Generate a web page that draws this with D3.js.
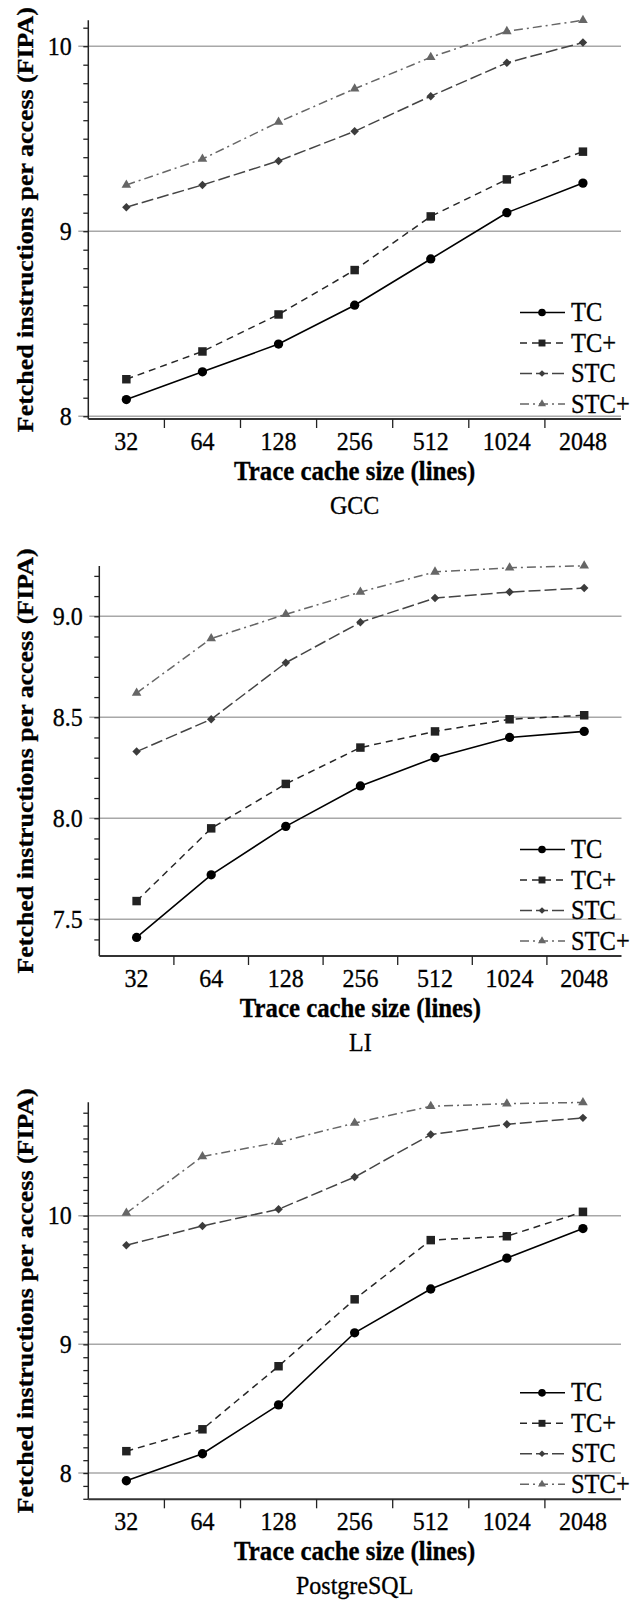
<!DOCTYPE html>
<html>
<head>
<meta charset="utf-8">
<script src="https://cdn.jsdelivr.net/npm/d3@7"></script>
<style>
body { margin: 0; background: #fff; }
text { font-family: "Liberation Serif", "Times New Roman", Times, serif; fill: #000; stroke: #000; stroke-width: 0.3; }
</style>
</head>
<body>
<div id="chart"></div>
<script>
// trace cache sizes (x categories) and series names
const sizes = ['32', '64', '128', '256', '512', '1024', '2048'];
const seriesNames = ['TC', 'TC+', 'STC', 'STC+'];

// GCC
const gccTC      = [8.09, 8.24, 8.39, 8.60, 8.85, 9.10, 9.26];
const gccTCplus  = [8.20, 8.35, 8.55, 8.79, 9.08, 9.28, 9.43];
const gccSTC     = [9.13, 9.25, 9.38, 9.54, 9.73, 9.91, 10.02];
const gccSTCplus = [9.25, 9.39, 9.59, 9.77, 9.94, 10.08, 10.14];
const gccTicks   = [8, 9, 10];
const gccDomain  = [7.985, 10.14];

// LI
const liTC      = [7.41, 7.72, 7.96, 8.16, 8.30, 8.40, 8.43];
const liTCplus  = [7.59, 7.95, 8.17, 8.35, 8.43, 8.49, 8.51];
const liSTC     = [8.33, 8.49, 8.77, 8.97, 9.09, 9.12, 9.14];
const liSTCplus = [8.62, 8.89, 9.01, 9.12, 9.22, 9.24, 9.25];
const liTicks   = [7.5, 8.0, 8.5, 9.0];
const liDomain  = [7.318, 9.249];

// PostgreSQL
const pgTC      = [7.94, 8.15, 8.53, 9.09, 9.43, 9.67, 9.90];
const pgTCplus  = [8.17, 8.34, 8.83, 9.35, 9.81, 9.84, 10.03];
const pgSTC     = [9.77, 9.92, 10.05, 10.30, 10.63, 10.71, 10.76];
const pgSTCplus = [10.02, 10.46, 10.57, 10.72, 10.85, 10.87, 10.88];
const pgTicks   = [8, 9, 10];
const pgDomain  = [7.796, 10.881];

const W = 634, H = 1605;
const SY = 1.08; // the original figure is slightly stretched vertically

const svg = d3.select('#chart').append('svg')
  .attr('width', W)
  .attr('height', H);

const panels = [
  {title: 'GCC', series: [gccTC, gccTCplus, gccSTC, gccSTCplus], ticks: gccTicks, domain: gccDomain,
   fmt: d3.format('d'), left: 88.3, right: 621, top: 20.3, bottom: 419},
  {title: 'LI', series: [liTC, liTCplus, liSTC, liSTCplus], ticks: liTicks, domain: liDomain,
   fmt: d3.format('.1f'), left: 99.3, right: 621.5, top: 566, bottom: 956},
  {title: 'PostgreSQL', series: [pgTC, pgTCplus, pgSTC, pgSTCplus], ticks: pgTicks, domain: pgDomain,
   fmt: d3.format('d'), left: 88.3, right: 621, top: 1102.3, bottom: 1499.3}
];

const styles = [
  {stroke: '#000', dash: null, width: 1.6, symbol: d3.symbolCircle, size: 68, lsize: 46, rot: 0, fill: '#000'},
  {stroke: '#262626', dash: '7,5', width: 1.5, symbol: d3.symbolSquare, size: 72, lsize: 48, rot: 0, fill: '#222'},
  {stroke: '#444', dash: '12,4', width: 1.5, symbol: d3.symbolSquare, size: 36, lsize: 22, rot: 45, fill: '#3c3c3c'},
  {stroke: '#666', dash: '9,4,2,4', width: 1.5, symbol: d3.symbolTriangle, size: 40, lsize: 28, rot: 0, fill: '#666'}
];

// text drawn with the figure's slight vertical stretch
function label(parent, x, y, str, size, anchor, bold) {
  return parent.append('text')
    .attr('transform', `translate(${x},${y}) scale(1,${SY})`)
    .attr('text-anchor', anchor)
    .attr('font-size', size)
    .attr('font-weight', bold ? 'bold' : 'normal')
    .text(str);
}

panels.forEach(p => {
  const g = svg.append('g');

  const x = d3.scaleBand()
    .domain(sizes)
    .range([p.left, p.right]);

  const y = d3.scaleLinear()
    .domain(p.domain)
    .range([p.bottom, p.top]);

  // gridlines (they run through the major tick marks)
  g.append('g').selectAll('line')
    .data(p.ticks)
    .enter()
    .append('line')
    .attr('x1', p.left - 10)
    .attr('x2', p.right)
    .attr('y1', d => y(d))
    .attr('y2', d => y(d))
    .attr('stroke', '#a8a8a8')
    .attr('stroke-width', 1.5);

  // minor ticks every 0.1
  const minor = d3.range(Math.ceil(p.domain[0] * 10 - 1e-6), Math.floor(p.domain[1] * 10 + 1e-6) + 1)
    .map(d => d / 10);

  const yMinor = g.append('g')
    .attr('transform', `translate(${p.left},0)`)
    .call(d3.axisLeft(y).tickValues(minor).tickSize(5).tickFormat(''));
  yMinor.select('.domain').remove();
  yMinor.selectAll('.tick line').attr('stroke', '#222').attr('stroke-width', 1.3);

  // y tick labels
  p.ticks.forEach(t => {
    label(g, p.left - 16.5, y(t) + 8.6, p.fmt(t), 24, 'end', false);
  });

  // axis lines
  g.append('line')
    .attr('x1', p.left).attr('x2', p.left)
    .attr('y1', p.top).attr('y2', p.bottom)
    .attr('stroke', '#222').attr('stroke-width', 1.5);
  g.append('line')
    .attr('x1', p.left).attr('x2', p.right)
    .attr('y1', p.bottom).attr('y2', p.bottom)
    .attr('stroke', '#333').attr('stroke-width', 2);

  // x ticks between categories
  g.append('g').selectAll('line')
    .data(sizes.slice(1))
    .enter()
    .append('line')
    .attr('x1', d => x(d)).attr('x2', d => x(d))
    .attr('y1', p.bottom).attr('y2', p.bottom + 9)
    .attr('stroke', '#222').attr('stroke-width', 1.3);

  sizes.forEach(s => {
    label(g, x(s) + x.bandwidth() / 2, p.bottom + 31, s, 24, 'middle', false);
  });

  const cx = (p.left + p.right) / 2;

  label(g, cx, p.bottom + 61, 'Trace cache size (lines)', 24.8, 'middle', true);
  label(g, cx, p.bottom + 95, p.title, 24, 'middle', false);

  g.append('text')
    .attr('transform', `translate(33,${(p.top + p.bottom) / 2}) rotate(-90) scale(${SY},1)`)
    .attr('text-anchor', 'middle')
    .attr('font-size', 24)
    .attr('font-weight', 'bold')
    .text('Fetched instructions per access (FIPA)');

  // series
  const line = d3.line()
    .x((d, i) => x(sizes[i]) + x.bandwidth() / 2)
    .y(d => y(d));

  p.series.forEach((values, si) => {
    const st = styles[si];
    g.append('path')
      .attr('d', line(values))
      .attr('fill', 'none')
      .attr('stroke', st.stroke)
      .attr('stroke-width', st.width)
      .attr('stroke-dasharray', st.dash);

    g.append('g').selectAll('path')
      .data(values)
      .enter()
      .append('path')
      .attr('d', d3.symbol().type(st.symbol).size(st.size))
      .attr('transform', (d, i) => `translate(${x(sizes[i]) + x.bandwidth() / 2},${y(d)}) rotate(${st.rot})`)
      .attr('fill', st.fill);
  });

  // legend
  const legend = g.append('g');
  seriesNames.forEach((name, i) => {
    const st = styles[i];
    const ly = p.bottom - 15 - (seriesNames.length - 1 - i) * 30.5;
    legend.append('line')
      .attr('x1', 520).attr('x2', 565)
      .attr('y1', ly).attr('y2', ly)
      .attr('stroke', st.stroke)
      .attr('stroke-width', st.width)
      .attr('stroke-dasharray', st.dash);
    legend.append('path')
      .attr('d', d3.symbol().type(st.symbol).size(st.lsize))
      .attr('transform', `translate(542,${ly}) rotate(${st.rot})`)
      .attr('fill', st.fill);
    label(legend, 571, ly + 8.6, name, 24.5, 'start', false);
  });
});
</script>
</body>
</html>
